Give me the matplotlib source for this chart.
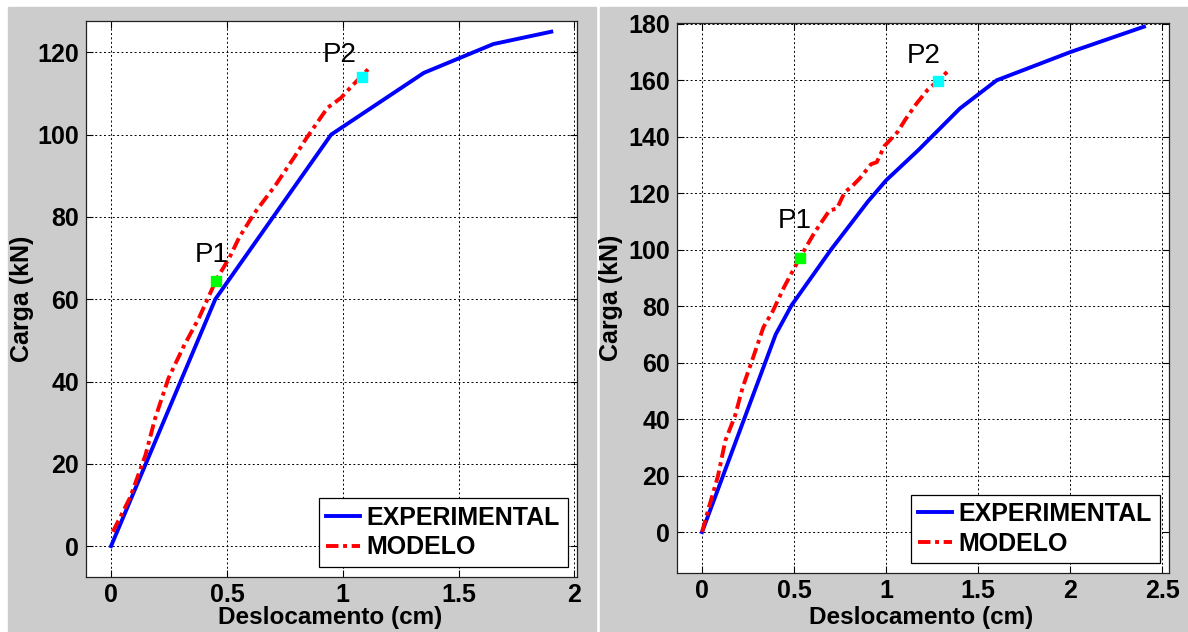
import matplotlib
matplotlib.use("Agg")
import matplotlib.pyplot as plt
from matplotlib.patches import Rectangle

plt.rcParams['font.family'] = ['Liberation Sans', 'DejaVu Sans']

# --- left panel data ---
exp1_x = [0, 0.45, 0.70, 0.95, 1.35, 1.65, 1.90]
exp1_y = [0, 60, 80, 100, 115, 122, 125]
mod1_x = [0.008, 0.083, 0.149, 0.19, 0.248, 0.314, 0.38, 0.455, 0.512, 0.554,
          0.62, 0.711, 0.793, 0.843, 0.934, 0.992, 1.041, 1.083, 1.12]
mod1_y = [3.5, 11.9, 22.2, 31.0, 40.8, 48.6, 55.5, 64.8, 70.2, 75.1,
          81.0, 87.8, 94.7, 99.1, 106.5, 108.9, 111.9, 114.3, 116.5]
p1_left = (0.453, 64.5)
p2_left = (1.082, 114.1)

# --- right panel data ---
exp2_x = [0, 0.40, 0.487, 0.70, 0.90, 1.0, 1.175, 1.40, 1.60, 2.0, 2.40]
exp2_y = [0, 70, 80.4, 100, 117, 124.6, 135.3, 150, 160, 170, 179]
mod2_x = [0, 0.035, 0.086, 0.127, 0.179, 0.22, 0.281, 0.333, 0.384, 0.446,
          0.528, 0.61, 0.692, 0.733, 0.774, 0.815, 0.857, 0.918, 0.949, 0.99,
          1.062, 1.103, 1.164, 1.226, 1.277, 1.333]
mod2_y = [0, 8.3, 19.7, 32.5, 41.1, 51.1, 62.5, 72.5, 78.2, 86.8,
          96.8, 106.0, 113.9, 114.6, 120.3, 122.5, 125.3, 130.3, 131.0, 136.7,
          141.7, 146.0, 151.7, 156.7, 159.6, 163.1]
p1_right = (0.534, 96.9)
p2_right = (1.284, 159.6)

labels = ['EXPERIMENTAL', 'MODELO']
xlabel = 'Deslocamento (cm)'
ylabel = 'Carga (kN)'

fig = plt.figure(figsize=(11.88, 6.32), dpi=100, facecolor='white')
grey = '#cccccc'
fig.patches.append(Rectangle((8 / 1188, 0), 588 / 1188, 625 / 632,
                             transform=fig.transFigure, color=grey, zorder=-10))
fig.patches.append(Rectangle((600 / 1188, 0), 588 / 1188, 625 / 632,
                             transform=fig.transFigure, color=grey, zorder=-10))

ax1 = fig.add_axes([86 / 1188, 1 - 577 / 632, 491 / 1188, 556 / 632])
ax2 = fig.add_axes([677 / 1188, 1 - 573 / 632, 492 / 1188, 550 / 632])

dash_dot = (0, (3.2, 1.2, 1.0, 1.2))
fs = 17.5


def draw(ax, ex, ey, mx, my, p1, p2, p1_txt, p2_txt, xlim, ylim, xticks, yticks,
         xl_y, yl_x):
    ax.plot(ex, ey, color='#0000ff', lw=2.8, label=labels[0])
    ax.plot(mx, my, color='#ff0000', lw=2.8, ls=dash_dot, label=labels[1])
    ax.plot(*p1, 's', color='#00ff00', ms=6.5, zorder=5)
    ax.plot(*p2, 's', color='#00ffff', ms=6.5, zorder=5)
    ax.text(*p1_txt, 'P1', fontsize=20)
    ax.text(*p2_txt, 'P2', fontsize=20)
    ax.set_xlim(*xlim)
    ax.set_ylim(*ylim)
    ax.set_xticks(xticks)
    ax.set_yticks(yticks)
    ax.set_xticklabels([f'{t:g}' for t in xticks])
    ax.grid(True, color='k', ls=(0, (2, 2.5)), lw=0.7)
    ax.tick_params(direction='in', top=True, right=True, length=5,
                   labelsize=18, width=0.8)
    ax.tick_params(axis='x', pad=4)
    ax.tick_params(axis='y', pad=5)
    for lab in ax.get_xticklabels() + ax.get_yticklabels():
        lab.set_fontweight('bold')
    for sp in ax.spines.values():
        sp.set_color('#222222')
        sp.set_linewidth(0.9)
    ax.set_xlabel(xlabel, fontsize=fs, fontweight='bold')
    ax.set_ylabel(ylabel, fontsize=18, fontweight='bold')
    ax.xaxis.set_label_coords(0.497, xl_y)
    ax.yaxis.set_label_coords(yl_x, 0.5)
    leg = ax.legend(loc='lower right', bbox_to_anchor=(0.981, 0.018),
                    borderaxespad=0, fancybox=False, framealpha=1,
                    edgecolor='k', handlelength=1.36, handletextpad=0.27,
                    borderpad=0.3, labelspacing=0.22,
                    prop={'size': 18, 'weight': 'bold'})
    leg.get_frame().set_linewidth(0.9)


draw(ax1, exp1_x, exp1_y, mod1_x, mod1_y, p1_left, p2_left,
     (0.362, 69.1), (0.915, 117.7),
     (-0.108, 2.011), (-7.5, 127.6), [0, 0.5, 1, 1.5, 2],
     [0, 20, 40, 60, 80, 100, 120], -0.0522, -0.106)
draw(ax2, exp2_x, exp2_y, mod2_x, mod2_y, p1_right, p2_right,
     (0.413, 107.6), (1.112, 166.3),
     (-0.136, 2.536), (-14.5, 180.3), [0, 0.5, 1, 1.5, 2, 2.5],
     [0, 20, 40, 60, 80, 100, 120, 140, 160, 180], -0.060, -0.110)

fig.savefig('out.png', dpi=100, facecolor='white')
